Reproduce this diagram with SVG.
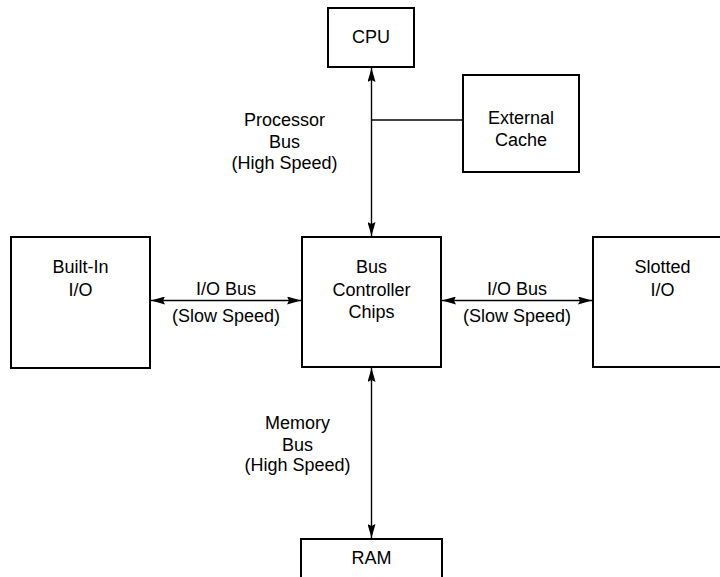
<svg xmlns="http://www.w3.org/2000/svg" width="720" height="577" viewBox="0 0 720 577">
<style>
.box{fill:#fff;stroke:#000;stroke-width:2}
.ln{fill:none;stroke:#000;stroke-width:1.4}
text{font-family:"Liberation Sans",Arial,sans-serif;font-size:18px;fill:#000;text-anchor:middle}
</style>
<defs>
<marker id="ah" viewBox="0 0 14 8" refX="14" refY="4" markerWidth="14" markerHeight="8" markerUnits="userSpaceOnUse" orient="auto-start-reverse">
<path d="M0,0 L14,4 L0,8 L2,4 Z" fill="#000"/>
</marker>
</defs>
<g id="connectors">
<line class="ln" x1="371.5" y1="68" x2="371.5" y2="236" marker-start="url(#ah)" marker-end="url(#ah)"/>
<line class="ln" x1="371.5" y1="120" x2="463" y2="120"/>
<line class="ln" x1="151" y1="300.5" x2="301" y2="300.5" marker-start="url(#ah)" marker-end="url(#ah)"/>
<line class="ln" x1="442" y1="300.5" x2="592" y2="300.5" marker-start="url(#ah)" marker-end="url(#ah)"/>
<line class="ln" x1="371.5" y1="368" x2="371.5" y2="538" marker-start="url(#ah)" marker-end="url(#ah)"/>
</g>
<g id="label-processor-bus">
<text x="284.5" y="126">Processor</text>
<text x="284.5" y="148">Bus</text>
<text x="284.5" y="169">(High Speed)</text>
</g>
<g id="label-io-bus-left">
<text x="226" y="295">I/O Bus</text>
<text x="226" y="322">(Slow Speed)</text>
</g>
<g id="label-io-bus-right">
<text x="517" y="295">I/O Bus</text>
<text x="517" y="322">(Slow Speed)</text>
</g>
<g id="label-memory-bus">
<text x="297.5" y="429">Memory</text>
<text x="297.5" y="451">Bus</text>
<text x="297.5" y="471">(High Speed)</text>
</g>
<g id="cpu">
<rect class="box" x="328" y="8" width="86" height="59"/>
<text x="371" y="43">CPU</text>
</g>
<g id="external-cache">
<rect class="box" x="463" y="75" width="116" height="97"/>
<text x="521" y="124">External</text>
<text x="521" y="146">Cache</text>
</g>
<g id="bus-controller">
<rect class="box" x="302" y="237" width="139" height="130"/>
<text x="371.5" y="273">Bus</text>
<text x="371.5" y="296">Controller</text>
<text x="371.5" y="318">Chips</text>
</g>
<g id="built-in-io">
<rect class="box" x="11" y="237" width="139" height="131"/>
<text x="80.5" y="273">Built-In</text>
<text x="80.5" y="296">I/O</text>
</g>
<g id="slotted-io">
<rect class="box" x="593" y="237" width="140" height="130"/>
<text x="662.5" y="273">Slotted</text>
<text x="662.5" y="296">I/O</text>
</g>
<g id="ram">
<rect class="box" x="301" y="539" width="141" height="50"/>
<text x="371.5" y="564">RAM</text>
</g>
</svg>
